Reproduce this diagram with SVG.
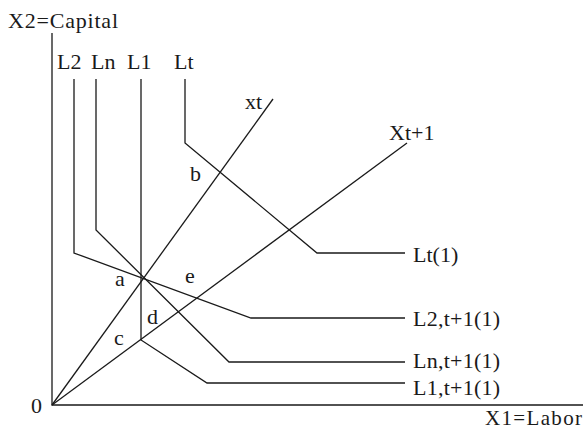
<svg xmlns="http://www.w3.org/2000/svg" width="585" height="431" viewBox="0 0 585 431">
<style>
.ln{fill:none;stroke:#1a1a1a;stroke-width:1.3;stroke-linejoin:miter}
text{font-family:"Liberation Serif","Times New Roman",serif;font-size:22px;fill:#1a1a1a}
</style>
<rect width="585" height="431" fill="#fff"/>
<g id="axes">
<polyline class="ln" points="52,33 52,405 583,405"/>
<text x="8" y="28" textLength="110">X2=Capital</text>
<text x="485" y="425" textLength="97" style="font-size:21px">X1=Labor</text>
<text x="31" y="413">0</text>
</g>
<g id="connectors">
<line class="ln" x1="52" y1="405" x2="273" y2="99"/>
<line class="ln" x1="52" y1="405" x2="407" y2="143"/>
</g>
<g id="L2"><polyline class="ln" points="74,79 74,253 251,318 405,318"/><text x="57" y="69">L2</text><text x="413" y="326" textLength="87">L2,t+1(1)</text></g>
<g id="Ln"><polyline class="ln" points="96,79 96,230 229,362 405,362"/><text x="91" y="69">Ln</text><text x="413" y="368" textLength="87">Ln,t+1(1)</text></g>
<g id="L1"><polyline class="ln" points="141,79 141,340 207,383 405,383"/><text x="127" y="69">L1</text><text x="413" y="395" textLength="87">L1,t+1(1)</text></g>
<g id="Lt"><polyline class="ln" points="185,79 185,143 317,253 405,253"/><text x="174" y="69">Lt</text><text x="413" y="262">Lt(1)</text></g>
<g id="xt"><text x="245" y="109">xt</text></g>
<g id="Xt1"><text x="389" y="140">Xt+1</text></g>
<g id="points">
<text x="115" y="286">a</text>
<text x="190" y="181">b</text>
<text x="114" y="345">c</text>
<text x="147" y="324">d</text>
<text x="185" y="283">e</text>
</g>
</svg>
